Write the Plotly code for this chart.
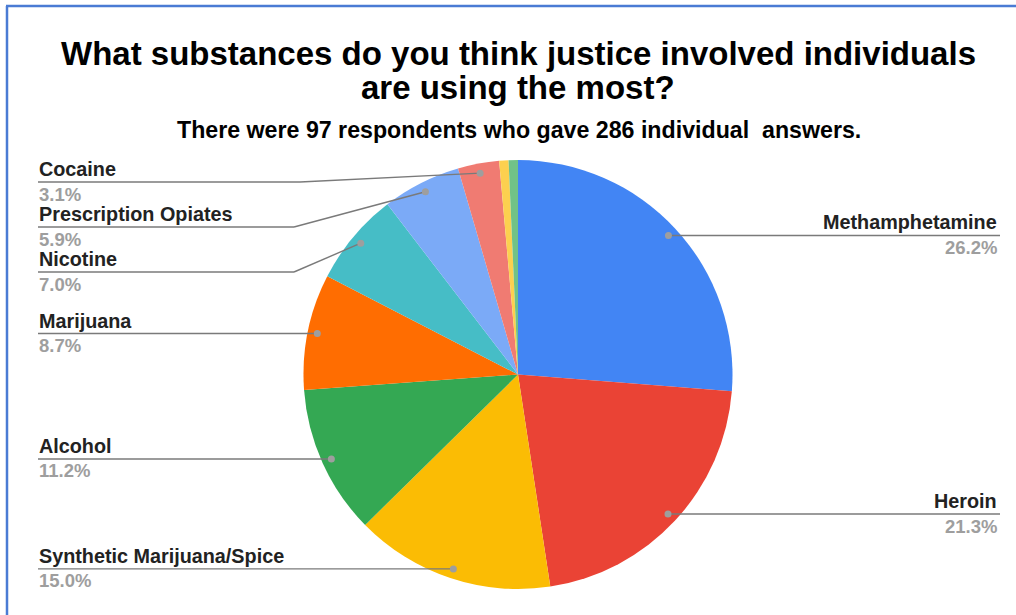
import math
import plotly.graph_objects as go

# Survey answers, share of all 286 individual answers (%)
substances = [
    "Methamphetamine",
    "Heroin",
    "Synthetic Marijuana/Spice",
    "Alcohol",
    "Marijuana",
    "Nicotine",
    "Prescription Opiates",
    "Cocaine",
    "Other A",
    "Other B",
]
shares = [26.2, 21.3, 15.0, 11.2, 8.7, 7.0, 5.9, 3.1, 0.7, 0.7]
labelled = [True, True, True, True, True, True, True, True, False, False]

colors = [
    "#4285F4", "#EA4335", "#FBBC04", "#34A853", "#FF6D01",
    "#46BDC6", "#7BAAF7", "#F07B72", "#FCD04F", "#71C287",
]

W, H = 1016, 615
FONT = "Liberation Sans, Arial, sans-serif"

# pie placement in pixels
CX, CY, R = 518, 374.5, 214.5
DOT_R = 0.955 * R

# stacked left-hand labels pushed apart so they don't collide
label_y_nudge = {"Cocaine": 182, "Prescription Opiates": 227, "Nicotine": 272}
ELBOW_X = {"Cocaine": 300, "Prescription Opiates": 294, "Nicotine": 294}
LEFT_X, RIGHT_X = 38, 1000


def px(x):
    return x / W


def py(y):
    return 1 - y / H


fig = go.Figure(
    go.Pie(
        labels=substances,
        values=shares,
        sort=False,
        direction="clockwise",
        rotation=0,
        marker=dict(colors=colors, line=dict(width=0)),
        textinfo="none",
        hovertemplate="%{label}: %{value}%<extra></extra>",
        domain=dict(x=[px(CX - R), px(CX + R)], y=[py(CY + R), py(CY - R)]),
        showlegend=False,
    )
)

shapes = []
annotations = []
total = sum(shares)
cum = 0.0
LINE_COLOR = "#7a7a7a"
for name, v, show in zip(substances, shares, labelled):
    mid = (cum + v / 2) / total * 2 * math.pi
    cum += v
    if not show:
        continue
    dx = CX + DOT_R * math.sin(mid)
    dy = CY - DOT_R * math.cos(mid)
    right = math.sin(mid) > 0
    ly = label_y_nudge.get(name, dy)
    if right:
        shapes.append(dict(type="line", xref="paper", yref="paper",
                           x0=px(dx), y0=py(dy), x1=px(RIGHT_X), y1=py(ly),
                           line=dict(color=LINE_COLOR, width=1.4)))
        tx, anchor = RIGHT_X - 1, "right"
    else:
        ex = ELBOW_X.get(name, dx)
        shapes.append(dict(type="line", xref="paper", yref="paper",
                           x0=px(LEFT_X), y0=py(ly), x1=px(ex), y1=py(ly),
                           line=dict(color=LINE_COLOR, width=1.4)))
        if ex != dx:
            shapes.append(dict(type="line", xref="paper", yref="paper",
                               x0=px(ex), y0=py(ly), x1=px(dx), y1=py(dy),
                               line=dict(color=LINE_COLOR, width=1.4)))
        tx, anchor = LEFT_X - 1, "left"
    shapes.append(dict(type="circle", xref="paper", yref="paper",
                       x0=px(dx - 3.5), x1=px(dx + 3.5),
                       y0=py(dy - 3.5), y1=py(dy + 3.5),
                       fillcolor="#9e9e9e", line=dict(width=0)))
    annotations.append(dict(text=f"<b>{name}</b>", x=px(tx), y=py(ly - 13),
                            xref="paper", yref="paper", xanchor=anchor,
                            yanchor="middle", showarrow=False,
                            font=dict(family=FONT, size=19.8, color="#222222")))
    annotations.append(dict(text=f"<b>{v:.1f}%</b>", x=px(tx), y=py(ly + 12),
                            xref="paper", yref="paper", xanchor=anchor,
                            yanchor="middle", showarrow=False,
                            font=dict(family=FONT, size=18.5, color="#9e9e9e")))

# title block
annotations += [
    dict(text="<b>What substances do you think justice involved individuals</b>",
         x=px(518), y=py(54), xref="paper", yref="paper", xanchor="center",
         yanchor="middle", showarrow=False,
         font=dict(family=FONT, size=33, color="#000000")),
    dict(text="<b>are using the most?</b>",
         x=px(518), y=py(88), xref="paper", yref="paper", xanchor="center",
         yanchor="middle", showarrow=False,
         font=dict(family=FONT, size=33, color="#000000")),
    dict(text="<b>There were 97 respondents who gave 286 individual  answers.</b>",
         x=px(519), y=py(130), xref="paper", yref="paper", xanchor="center",
         yanchor="middle", showarrow=False,
         font=dict(family=FONT, size=23.2, color="#000000")),
]

# frame edges
BORDER = "#4a7bd4"
shapes += [
    dict(type="line", xref="paper", yref="paper", x0=px(7), y0=py(6),
         x1=px(7), y1=py(H + 2), line=dict(color=BORDER, width=2.5)),
    dict(type="line", xref="paper", yref="paper", x0=px(6), y0=py(6),
         x1=px(W + 2), y1=py(6), line=dict(color=BORDER, width=2.5)),
]

fig.update_layout(
    width=W, height=H, autosize=False,
    margin=dict(l=0, r=0, t=0, b=0),
    paper_bgcolor="white", plot_bgcolor="white",
    shapes=shapes, annotations=annotations,
)

fig.write_html("out.html")
